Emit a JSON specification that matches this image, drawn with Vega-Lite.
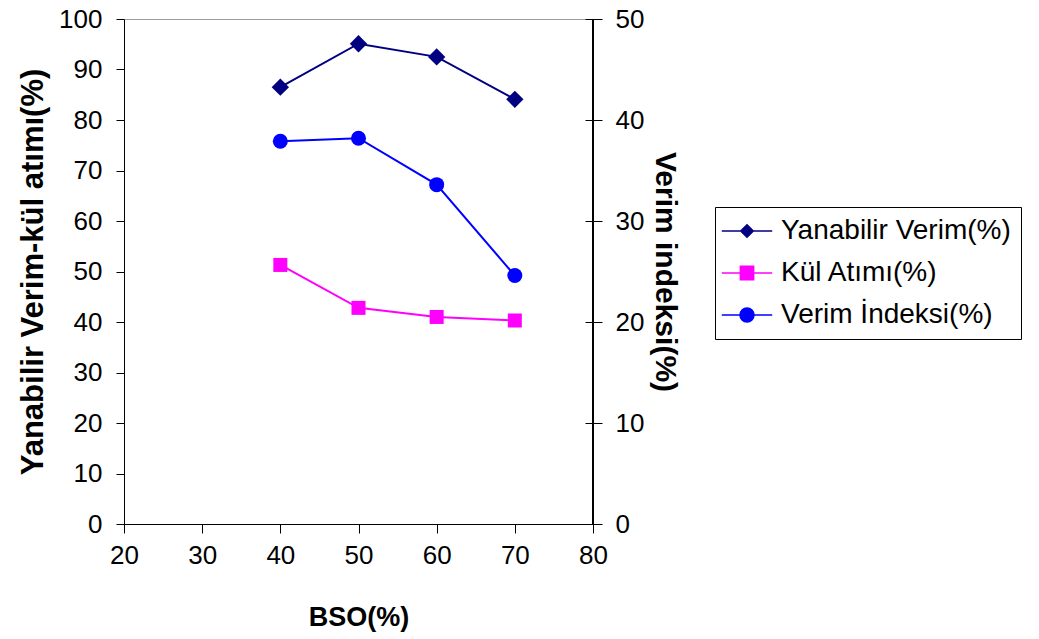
{
  "$schema": "https://vega.github.io/schema/vega-lite/v6.json",
  "width": 469,
  "height": 505,
  "autosize": {"type": "none"},
  "padding": {"left": 124, "top": 19, "right": 446, "bottom": 115},
  "background": "white",
  "data": {
    "values": [
      {"bso": 40, "seri": "Yanabilir Verim(%)", "deger": 86.5},
      {"bso": 50, "seri": "Yanabilir Verim(%)", "deger": 95.1},
      {"bso": 60, "seri": "Yanabilir Verim(%)", "deger": 92.5},
      {"bso": 70, "seri": "Yanabilir Verim(%)", "deger": 84.1},
      {"bso": 40, "seri": "Kül Atımı(%)", "deger": 51.3},
      {"bso": 50, "seri": "Kül Atımı(%)", "deger": 42.8},
      {"bso": 60, "seri": "Kül Atımı(%)", "deger": 41.0},
      {"bso": 70, "seri": "Kül Atımı(%)", "deger": 40.3},
      {"bso": 40, "seri": "Verim İndeksi(%)", "deger": 37.9},
      {"bso": 50, "seri": "Verim İndeksi(%)", "deger": 38.2},
      {"bso": 60, "seri": "Verim İndeksi(%)", "deger": 33.6},
      {"bso": 70, "seri": "Verim İndeksi(%)", "deger": 24.6}
    ]
  },
  "encoding": {
    "x": {
      "field": "bso",
      "type": "quantitative",
      "scale": {"domain": [20, 80], "nice": false, "zero": false},
      "axis": {
        "title": "BSO(%)",
        "values": [20, 30, 40, 50, 60, 70, 80],
        "tickSize": 9,
        "labelPadding": 9,
        "titleFontSize": 27,
        "titlePadding": 36
      }
    },
    "color": {
      "field": "seri",
      "type": "nominal",
      "scale": {
        "domain": ["Yanabilir Verim(%)", "Kül Atımı(%)", "Verim İndeksi(%)"],
        "range": ["#000080", "#FF00FF", "#0000FF"]
      },
      "legend": {
        "title": null,
        "orient": "none",
        "legendX": 591,
        "legendY": 188,
        "encode": {
          "symbols": {
            "update": {
              "shape": {"signal": "datum.value === 'Yanabilir Verim(%)' ? 'M-3.6,0H3.6M0,-0.9L0.9,0L0,0.9L-0.9,0Z' : datum.value === 'Kül Atımı(%)' ? 'M-3.6,0H3.6M-0.95,-0.95H0.95V0.95H-0.95Z' : 'M-3.6,0H3.6M-1,0A1,1 0 1,0 1,0A1,1 0 1,0 -1,0Z'"},
              "fill": {"signal": "scale('color', datum.value)"},
              "stroke": {"signal": "scale('color', datum.value)"},
              "strokeWidth": {"value": 1.5},
              "opacity": {"value": 1},
              "fillOpacity": {"value": 1},
              "size": {"value": 196}
            }
          }
        }
      }
    }
  },
  "layer": [
    {
      "encoding": {
        "y": {
          "field": "deger",
          "type": "quantitative",
          "scale": {"domain": [0, 100], "nice": false},
          "axis": {
            "orient": "left",
            "title": "Yanabilir Verim-kül atımı(%)",
            "values": [0, 10, 20, 30, 40, 50, 60, 70, 80, 90, 100],
            "tickSize": 8,
            "labelPadding": 14,
            "titleFontSize": 31,
            "titlePadding": 9
          }
        }
      },
      "layer": [
        {
          "mark": {"type": "rule", "color": "black", "strokeWidth": 1},
          "encoding": {"x": {"datum": 80, "type": "quantitative"}, "y": null, "color": null}
        },
        {
          "transform": [{"filter": "datum.seri !== 'Verim İndeksi(%)'"}],
          "mark": {"type": "line", "strokeWidth": 2},
          "encoding": {"detail": {"field": "seri"}}
        },
        {
          "transform": [{"filter": "datum.seri === 'Yanabilir Verim(%)'"}],
          "mark": {"type": "point", "shape": "diamond", "filled": true, "size": 300, "opacity": 1}
        },
        {
          "transform": [{"filter": "datum.seri === 'Kül Atımı(%)'"}],
          "mark": {"type": "point", "shape": "square", "filled": true, "size": 196, "opacity": 1}
        }
      ]
    },
    {
      "transform": [{"filter": "datum.seri === 'Verim İndeksi(%)'"}],
      "encoding": {
        "y": {
          "field": "deger",
          "type": "quantitative",
          "scale": {"domain": [0, 50], "nice": false},
          "axis": {
            "orient": "right",
            "title": "Verim indeksi(%)",
            "values": [0, 10, 20, 30, 40, 50],
            "domain": false,
            "offset": -8,
            "tickSize": 17,
            "labelPadding": 13,
            "titleFontSize": 30,
            "titlePadding": 6
          }
        }
      },
      "layer": [
        {"mark": {"type": "line", "strokeWidth": 2}},
        {"mark": {"type": "point", "shape": "circle", "filled": true, "size": 225, "opacity": 1}}
      ]
    }
  ],
  "resolve": {"scale": {"y": "independent"}},
  "config": {
    "font": "Liberation Sans",
    "view": {"stroke": "#9a9a9a", "strokeWidth": 1},
    "axis": {
      "grid": false,
      "labelFlush": false,
      "labelFont": "Liberation Sans",
      "labelFontSize": 26,
      "labelColor": "black",
      "titleFont": "Liberation Sans",
      "titleFontWeight": "bold",
      "titleColor": "black",
      "domainColor": "black",
      "domainWidth": 1,
      "tickColor": "black",
      "tickWidth": 1
    },
    "legend": {
      "labelFont": "Liberation Sans",
      "labelFontSize": 28,
      "labelColor": "black",
      "labelLimit": 400,
      "symbolSize": 196,
      "symbolStrokeWidth": 1.5,
      "symbolOffset": 8,
      "labelOffset": 20,
      "rowPadding": 14,
      "padding": 10,
      "strokeColor": "black",
      "fillColor": "white"
    }
  }
}
